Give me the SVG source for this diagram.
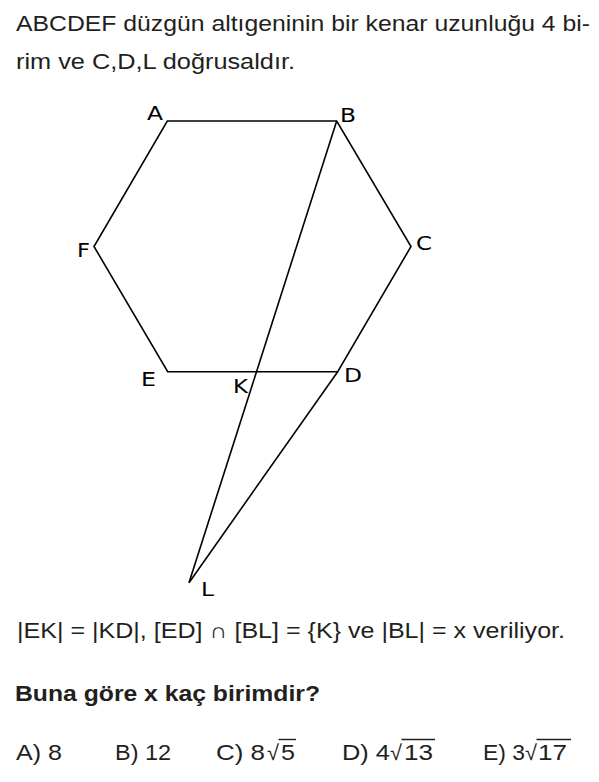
<svg xmlns="http://www.w3.org/2000/svg" width="599" height="782" viewBox="0 0 599 782">
<style>
.t{font-family:"Liberation Sans",Arial,sans-serif;font-size:21.5px;fill:#231f20}
.b{font-weight:bold}
.lbl{font-family:"DejaVu Sans",sans-serif;font-size:20px;fill:#000}
.ln{stroke:#000;stroke-width:1.6;fill:none;stroke-linejoin:miter}
.bar{stroke:#231f20;stroke-width:1.4}
</style>
<rect width="599" height="782" fill="#fff"/>
<g id="question">
<text class="t" x="16" y="30.5" textLength="574" lengthAdjust="spacingAndGlyphs">ABCDEF düzgün altıgeninin bir kenar uzunluğu 4 bi-</text>
<text class="t" x="16" y="68.5" textLength="279" lengthAdjust="spacingAndGlyphs">rim ve C,D,L doğrusaldır.</text>
</g>
<g id="connectors">
<polygon id="hexagon" class="ln" points="167.3,121 336.7,121 411,246.5 337.7,371.7 167.7,371.7 94,246.5"/>
<line id="BL" class="ln" x1="336.7" y1="121" x2="189" y2="582.7"/>
<line id="DL" class="ln" x1="337.7" y1="371.7" x2="189" y2="582.7"/>
</g>
<g id="A"><text class="lbl" x="147" y="120" textLength="16" lengthAdjust="spacingAndGlyphs">A</text></g>
<g id="B"><text class="lbl" x="340" y="122" textLength="16" lengthAdjust="spacingAndGlyphs">B</text></g>
<g id="C"><text class="lbl" x="416" y="250" textLength="16" lengthAdjust="spacingAndGlyphs">C</text></g>
<g id="D"><text class="lbl" x="344" y="382" textLength="18" lengthAdjust="spacingAndGlyphs">D</text></g>
<g id="E"><text class="lbl" x="141" y="386" textLength="15" lengthAdjust="spacingAndGlyphs">E</text></g>
<g id="F"><text class="lbl" x="77" y="257" textLength="13" lengthAdjust="spacingAndGlyphs">F</text></g>
<g id="K"><text class="lbl" x="233" y="393" textLength="15" lengthAdjust="spacingAndGlyphs">K</text></g>
<g id="L"><text class="lbl" x="201" y="596" textLength="13" lengthAdjust="spacingAndGlyphs">L</text></g>
<g id="given">
<text class="t" x="17" y="637.5" textLength="548" lengthAdjust="spacingAndGlyphs">|EK| = |KD|, [ED] ∩ [BL] = {K} ve |BL| = x veriliyor.</text>
<text class="t b" x="15" y="700.5" textLength="305" lengthAdjust="spacingAndGlyphs">Buna göre x kaç birimdir?</text>
</g>
<g id="options">
<text class="t" x="16" y="759.5" textLength="46" lengthAdjust="spacingAndGlyphs">A) 8</text>
<text class="t" x="115" y="759.5" textLength="56" lengthAdjust="spacingAndGlyphs">B) 12</text>
<text class="t" x="216" y="759.5" textLength="49" lengthAdjust="spacingAndGlyphs">C) 8</text>
<text class="t" x="267" y="759.5" textLength="12" lengthAdjust="spacingAndGlyphs">√</text>
<text class="t" x="281" y="759.5" textLength="14" lengthAdjust="spacingAndGlyphs">5</text>
<line class="bar" x1="278.5" y1="739.5" x2="296" y2="739.5"/>
<text class="t" x="342" y="759.5" textLength="48" lengthAdjust="spacingAndGlyphs">D) 4</text>
<text class="t" x="390" y="759.5" textLength="12" lengthAdjust="spacingAndGlyphs">√</text>
<text class="t" x="404" y="759.5" textLength="29" lengthAdjust="spacingAndGlyphs">13</text>
<line class="bar" x1="401.5" y1="739.5" x2="435" y2="739.5"/>
<text class="t" x="483" y="759.5" textLength="42" lengthAdjust="spacingAndGlyphs">E) 3</text>
<text class="t" x="525" y="759.5" textLength="12" lengthAdjust="spacingAndGlyphs">√</text>
<text class="t" x="538" y="759.5" textLength="29" lengthAdjust="spacingAndGlyphs">17</text>
<line class="bar" x1="536.5" y1="739.5" x2="571" y2="739.5"/>
</g>
</svg>
